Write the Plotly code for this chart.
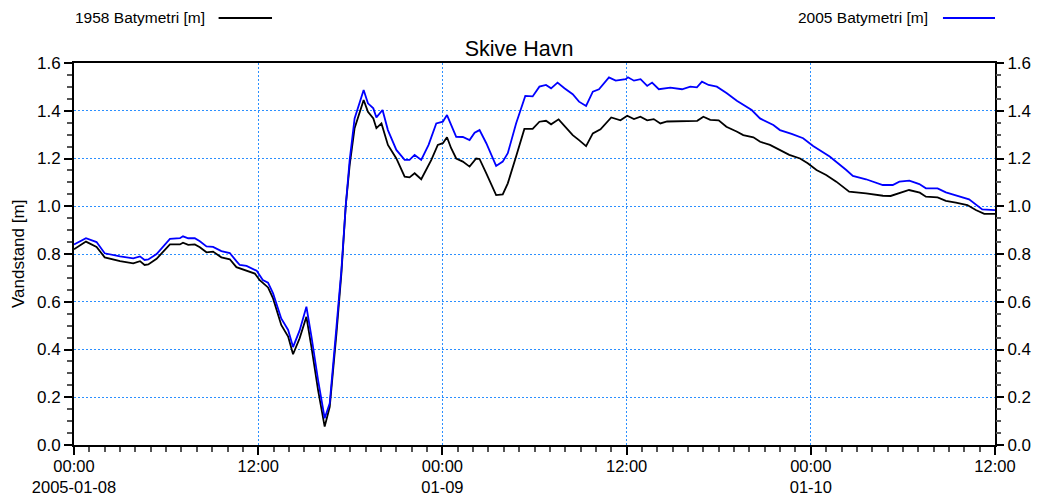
import pandas as pd
import plotly.graph_objects as go

# ---- data (hours since 2005-01-08 00:00, water level in m) ----
hours_1958 = [0.0, 0.78, 1.47, 2.0, 3.0, 3.86, 4.3, 4.6, 4.84, 5.38, 6.25, 6.9, 7.1, 7.44, 7.87,
              8.2, 8.63, 9.06, 9.6, 10.15, 10.58, 10.8, 11.24, 11.78, 12.1, 12.3, 12.64, 12.97,
              13.5, 13.95, 14.27, 14.7, 15.14, 15.47, 15.9, 16.33, 16.66, 17.1, 17.42, 17.7,
              17.96, 18.28, 18.87, 19.15, 19.5, 19.7, 20.03, 20.45, 21.0, 21.54, 21.86, 22.19,
              22.62, 23.28, 23.7, 24.03, 24.3, 24.57, 24.9, 25.33, 25.77, 26.2, 26.42, 26.86,
              27.18, 27.5, 27.93, 28.26, 28.8, 29.34, 29.88, 30.32, 30.75, 31.08, 31.57, 31.95,
              32.49, 32.9, 33.36, 33.8, 34.3, 35.0, 35.6, 36.04, 36.48, 36.9, 37.34, 37.77,
              38.2, 38.64, 39.7, 40.6, 41.0, 41.45, 42.0, 42.5, 43.2, 43.6, 44.26, 44.7, 45.34,
              46.0, 46.6, 47.3, 47.8, 48.37, 49.0, 49.66, 50.5, 51.6, 52.7, 53.2, 53.8, 54.4,
              55.1, 55.5, 56.26, 56.8, 57.45, 58.2, 58.75, 59.3, 60.0]
level_1958 = [0.82, 0.852, 0.83, 0.786, 0.77, 0.761, 0.77, 0.754, 0.756, 0.78, 0.84, 0.84, 0.847,
              0.838, 0.84, 0.828, 0.807, 0.81, 0.786, 0.778, 0.745, 0.74, 0.73, 0.718, 0.69, 0.68,
              0.66, 0.614, 0.503, 0.454, 0.38, 0.447, 0.537, 0.41, 0.23, 0.077, 0.16, 0.468,
              0.72, 1.0, 1.173, 1.327, 1.445, 1.396, 1.368, 1.327, 1.347, 1.257, 1.20, 1.124,
              1.121, 1.138, 1.113, 1.194, 1.257, 1.264, 1.289, 1.243, 1.20, 1.187, 1.166, 1.20,
              1.198, 1.138, 1.089, 1.047, 1.05, 1.096, 1.208, 1.324, 1.324, 1.354, 1.358, 1.343,
              1.364, 1.337, 1.298, 1.277, 1.252, 1.305, 1.322, 1.372, 1.36, 1.379, 1.365, 1.375,
              1.36, 1.365, 1.347, 1.355, 1.358, 1.358, 1.375, 1.362, 1.36, 1.333, 1.312, 1.298,
              1.289, 1.27, 1.257, 1.236, 1.215, 1.20, 1.18, 1.152, 1.131, 1.103, 1.061, 1.054,
              1.044, 1.043, 1.057, 1.068, 1.057, 1.04, 1.037, 1.023, 1.015, 1.005, 0.984, 0.968,
              0.968]

hours_2005 = [0.0, 0.78, 1.47, 2.0, 3.0, 3.86, 4.3, 4.6, 4.84, 5.38, 6.25, 6.9, 7.1, 7.44, 7.87,
              8.2, 8.63, 9.06, 9.6, 10.15, 10.58, 10.8, 11.24, 11.9, 12.3, 12.64, 12.97, 13.5,
              13.95, 14.27, 14.7, 15.14, 15.47, 15.9, 16.33, 16.66, 17.1, 17.42, 17.7, 17.96,
              18.28, 18.87, 19.15, 19.5, 19.7, 20.1, 20.45, 21.0, 21.54, 21.86, 22.19, 22.62,
              23.1, 23.6, 24.03, 24.3, 24.9, 25.33, 25.77, 26.1, 26.42, 26.86, 27.5, 27.93,
              28.26, 28.8, 29.4, 29.88, 30.32, 30.75, 31.08, 31.5, 31.95, 32.49, 32.9, 33.36,
              33.8, 34.2, 34.85, 35.29, 35.94, 36.09, 36.48, 36.91, 37.34, 37.66, 38.1, 38.85,
              39.61, 40.15, 40.58, 40.91, 41.34, 41.88, 42.53, 43.18, 44.15, 44.69, 45.56,
              45.99, 46.75, 47.5, 48.15, 49.23, 50.31, 50.74, 51.6, 52.69, 53.34, 53.77, 54.42,
              55.07, 55.5, 56.26, 56.8, 57.66, 58.31, 59.17, 60.0]
level_2005 = [0.84, 0.866, 0.85, 0.803, 0.79, 0.782, 0.79, 0.775, 0.777, 0.80, 0.863, 0.866,
              0.874, 0.866, 0.866, 0.853, 0.832, 0.83, 0.812, 0.804, 0.77, 0.754, 0.75, 0.73,
              0.691, 0.68, 0.635, 0.53, 0.482, 0.41, 0.48, 0.579, 0.454, 0.272, 0.112, 0.175,
              0.496, 0.733, 1.0, 1.194, 1.368, 1.487, 1.431, 1.41, 1.372, 1.403, 1.319, 1.236,
              1.194, 1.194, 1.215, 1.194, 1.257, 1.347, 1.354, 1.382, 1.291, 1.29, 1.277, 1.308,
              1.319, 1.264, 1.169, 1.187, 1.222, 1.347, 1.462, 1.46, 1.501, 1.508, 1.494, 1.518,
              1.494, 1.469, 1.438, 1.42, 1.48, 1.49, 1.54, 1.526, 1.532, 1.54, 1.526, 1.532,
              1.504, 1.518, 1.49, 1.497, 1.49, 1.501, 1.498, 1.522, 1.508, 1.501, 1.473, 1.442,
              1.403, 1.368, 1.34, 1.319, 1.303, 1.285, 1.252, 1.208, 1.152, 1.127, 1.113, 1.089,
              1.089, 1.103, 1.107, 1.093, 1.075, 1.075, 1.058, 1.04, 1.029, 0.987, 0.984]

tick_vals = ["2005-01-08 00:00", "2005-01-08 12:00", "2005-01-09 00:00",
             "2005-01-09 12:00", "2005-01-10 00:00", "2005-01-10 12:00"]
tick_text = ["00:00<br>2005-01-08", "12:00", "00:00<br>01-09", "12:00", "00:00<br>01-10", "12:00"]
y_ticks = [0.0, 0.2, 0.4, 0.6, 0.8, 1.0, 1.2, 1.4, 1.6]

base = pd.Timestamp("2005-01-08 00:00")
x1958 = base + pd.to_timedelta(hours_1958, unit="h")
x2005 = base + pd.to_timedelta(hours_2005, unit="h")

FONT = "Liberation Sans, Arial, sans-serif"
GRID = "#2b8fff"
GRID_DASH = "2px,2px"
TICK_SIZE = 17

fig = go.Figure()
fig.add_trace(go.Scatter(x=x1958, y=level_1958, mode="lines", name="1958 Batymetri [m]",
                         line=dict(color="black", width=1.8), showlegend=False))
fig.add_trace(go.Scatter(x=x2005, y=level_2005, mode="lines", name="2005 Batymetri [m]",
                         line=dict(color="#0000ff", width=1.8), showlegend=False))
# invisible anchor trace for right axis labels
fig.add_trace(go.Scatter(x=[x1958[0]], y=[level_1958[0]], yaxis="y2", mode="markers",
                         marker=dict(opacity=0), hoverinfo="skip", showlegend=False))

fig.update_layout(
    width=1038, height=497,
    margin=dict(l=74, r=43, t=63, b=52, autoexpand=False),
    paper_bgcolor="white", plot_bgcolor="white",
    font=dict(family=FONT, size=16, color="black"),
    xaxis=dict(
        type="date", range=[tick_vals[0], tick_vals[-1]], automargin=False,
        tickmode="array", tickvals=tick_vals, ticktext=tick_text,
        ticks="outside", ticklen=8, tickwidth=1.5, tickcolor="black",
        ticklabelstandoff=-3,
        showline=True, linecolor="black", linewidth=2, mirror=True,
        showgrid=True, gridcolor=GRID, griddash=GRID_DASH, gridwidth=1,
        zeroline=False,
        tickfont=dict(size=16.5),
        minor=dict(dtick=3600000, tick0="2005-01-08", ticks="outside", ticklen=5,
                   tickwidth=1.5, tickcolor="#555555", showgrid=False),
    ),
    yaxis=dict(
        range=[0, 1.6], tickmode="array", tickvals=y_ticks, tickformat=".1f", automargin=False,
        ticks="outside", ticklen=8, tickwidth=1.5, tickcolor="black",
        showline=True, linecolor="black", linewidth=2, mirror=True,
        showgrid=True, gridcolor=GRID, griddash=GRID_DASH, gridwidth=1,
        zeroline=False, tickfont=dict(size=TICK_SIZE),
        minor=dict(dtick=0.05, tick0=0, ticks="outside", ticklen=5, tickwidth=1.5,
                   tickcolor="#555555", showgrid=False),
    ),
    yaxis2=dict(
        overlaying="y", side="right", range=[0, 1.6], tickmode="array", tickvals=y_ticks,
        automargin=False, tickfont=dict(size=TICK_SIZE),
        tickformat=".1f", ticks="outside", ticklen=8, tickwidth=1.5, tickcolor="black",
        showline=False, showgrid=False, zeroline=False,
        minor=dict(dtick=0.05, tick0=0, ticks="outside", ticklen=5, tickwidth=1.5,
                   tickcolor="#555555", showgrid=False),
    ),
    title=dict(text="Skive Havn", x=0.5, xanchor="center", y=1 - 48 / 497, yanchor="middle",
               font=dict(size=21.5, family=FONT)),
    showlegend=False,
)

# y-axis title placed like the reference
fig.add_annotation(text="Vandstand [m]", xref="paper", yref="paper", x=(18 - 74) / 921, y=0.5,
                   textangle=-90, xanchor="center", yanchor="middle", showarrow=False,
                   font=dict(size=17, family=FONT))

# legend drawn as text + line sample (text left of line like the reference)
fig.add_annotation(text="1958 Batymetri [m]", xref="paper", yref="paper",
                   x=0.1444, y=(445 - 18) / 382, xanchor="right", yanchor="middle",
                   showarrow=False, font=dict(size=15.5, family=FONT))
fig.add_annotation(text="2005 Batymetri [m]", xref="paper", yref="paper",
                   x=0.929, y=(445 - 18) / 382, xanchor="right", yanchor="middle",
                   showarrow=False, font=dict(size=15.5, family=FONT))
fig.add_shape(type="line", xref="paper", yref="paper", x0=0.157, x1=0.215,
              y0=(445 - 18) / 382, y1=(445 - 18) / 382, line=dict(color="black", width=1.8))
fig.add_shape(type="line", xref="paper", yref="paper", x0=0.9435, x1=1.0,
              y0=(445 - 18) / 382, y1=(445 - 18) / 382, line=dict(color="#0000ff", width=1.8))

fig.write_html("out.html", config={"displayModeBar": False},
               post_script="document.body.style.margin='0';document.body.style.overflow='hidden';")
